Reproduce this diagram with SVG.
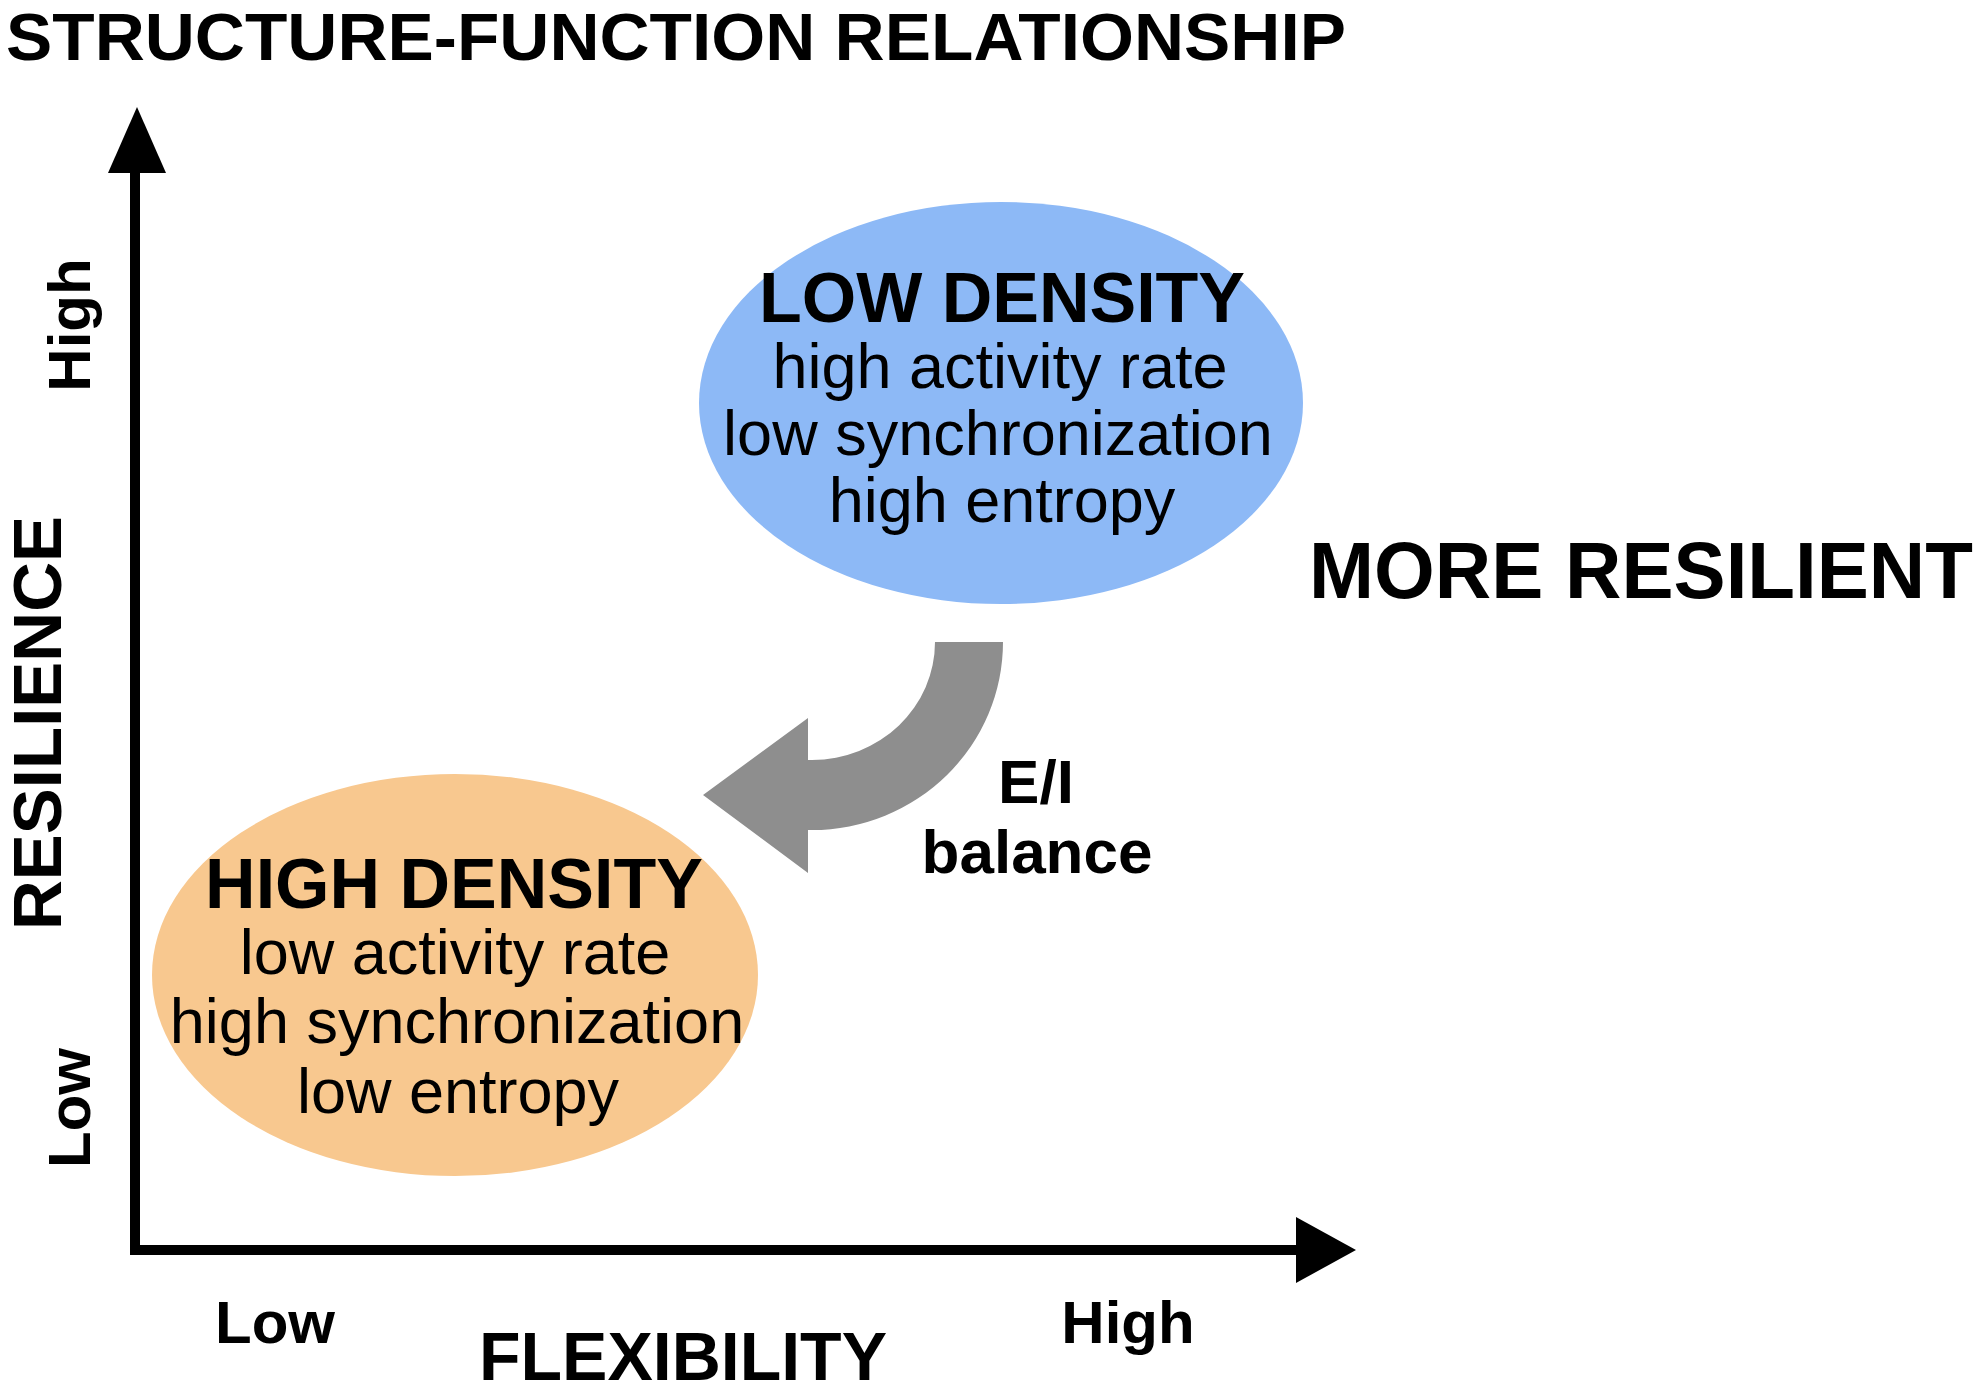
<svg xmlns="http://www.w3.org/2000/svg" width="1983" height="1395" viewBox="0 0 1983 1395">
<style>
text{font-family:"Liberation Sans",Arial,sans-serif;fill:#000}
.b{font-weight:bold}
.c{text-anchor:middle}
.r{font-size:63px}
.h{font-size:70px;font-weight:bold}
.ax{stroke:#000;stroke-width:10;fill:none}
</style>
<rect width="1983" height="1395" fill="#fff"/>
<text id="title" class="b" x="6" y="60" font-size="66" textLength="1340" lengthAdjust="spacingAndGlyphs">STRUCTURE-FUNCTION RELATIONSHIP</text>
<g id="axes">
<line class="ax" x1="135" y1="165" x2="135" y2="1255"/>
<line class="ax" x1="130" y1="1250" x2="1300" y2="1250"/>
<polygon points="137,107 166,173 108,173" fill="#000"/>
<polygon points="1356,1250 1296,1217 1296,1283" fill="#000"/>
</g>
<g id="axis-labels">
<text class="b c" font-size="60" transform="translate(90,325) rotate(-90)">High</text>
<text class="b c" font-size="69" transform="translate(61,723) rotate(-90)">RESILIENCE</text>
<text class="b c" font-size="60" transform="translate(90,1108) rotate(-90)">Low</text>
<text class="b c" font-size="60" x="275" y="1343">Low</text>
<text class="b c" font-size="60" x="1128" y="1343">High</text>
<text class="b c" font-size="68" x="683" y="1380">FLEXIBILITY</text>
</g>
<g id="node-low-density">
<ellipse cx="1001" cy="403" rx="302" ry="201" fill="#8DB9F6"/>
<text class="h c" x="1002" y="322">LOW DENSITY</text>
<text class="r c" x="1000" y="388">high activity rate</text>
<text class="r c" x="998" y="455">low synchronization</text>
<text class="r c" x="1002" y="522">high entropy</text>
</g>
<g id="node-high-density">
<ellipse cx="455" cy="975" rx="303" ry="201" fill="#F8C88F"/>
<text class="h c" x="454" y="908">HIGH DENSITY</text>
<text class="r c" x="455" y="974">low activity rate</text>
<text class="r c" x="457" y="1043">high synchronization</text>
<text class="r c" x="458" y="1113">low entropy</text>
</g>
<g id="connectors">
<path d="M935,642 L1003,642 A191,188 0 0 1 812,830 L808,830 L808,873 L703,795 L808,718 L808,760 L812,760 A123,118 0 0 0 935,642 Z" fill="#8E8E8E"/>
</g>
<g id="edge-label">
<text class="b c" font-size="62" x="1036" y="803">E/I</text>
<text class="b c" font-size="62" x="1037" y="873">balance</text>
</g>
<text id="more-resilient" class="b" x="1309" y="598" font-size="79" textLength="664" lengthAdjust="spacingAndGlyphs">MORE RESILIENT</text>
</svg>
